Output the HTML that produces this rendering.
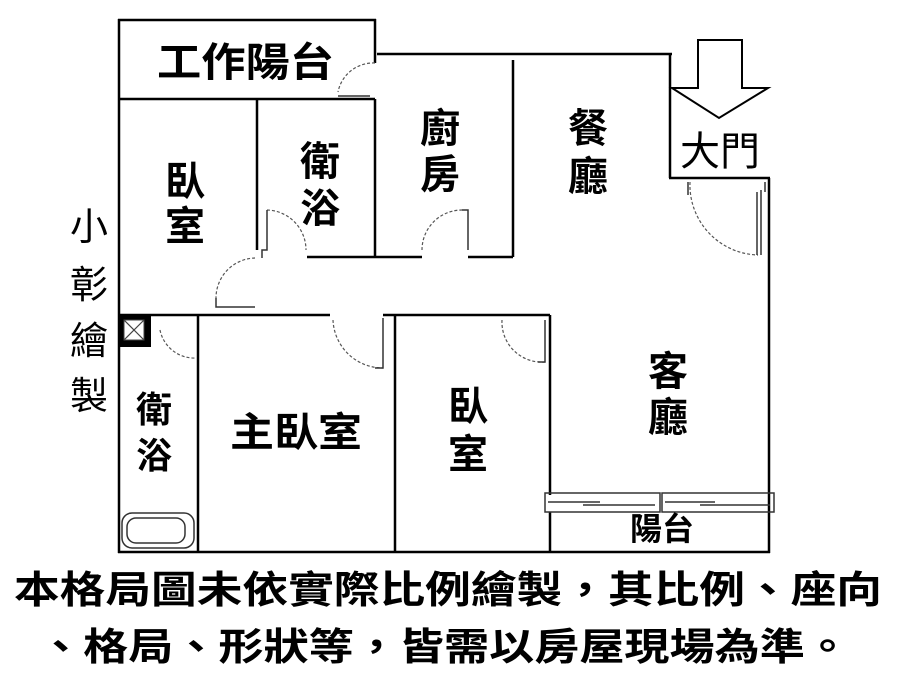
<!DOCTYPE html>
<html><head><meta charset="utf-8"><style>
html,body{margin:0;padding:0;background:#fff;}
svg{display:block;}
text{font-family:"Liberation Sans","Noto Sans CJK TC","WenQuanYi Zen Hei",sans-serif;fill:#000;}
</style></head><body>
<svg width="900" height="689" viewBox="0 0 900 689" xmlns="http://www.w3.org/2000/svg">
<g stroke="#000" stroke-width="2.5" fill="none">
 <line x1="119" y1="19" x2="119" y2="553"/>
 <line x1="118" y1="20" x2="376" y2="20"/>
 <line x1="375" y1="19" x2="375" y2="63"/>
 <line x1="377" y1="54" x2="672" y2="54"/>
 <line x1="119" y1="99" x2="375" y2="99"/>
 <line x1="375" y1="99" x2="375" y2="257"/>
 <line x1="257" y1="99" x2="257" y2="250"/>
 <line x1="307" y1="257" x2="422" y2="257"/>
 <line x1="468" y1="257" x2="513" y2="257"/>
 <line x1="513" y1="60" x2="513" y2="257"/>
 <line x1="670" y1="54" x2="670" y2="178"/>
 <line x1="669" y1="178" x2="770" y2="178"/>
 <line x1="769" y1="178" x2="769" y2="553"/>
 <line x1="119" y1="315" x2="330" y2="315"/>
 <line x1="383" y1="315" x2="550" y2="315"/>
 <line x1="198" y1="315" x2="198" y2="553"/>
 <line x1="395" y1="315" x2="395" y2="553"/>
 <line x1="550" y1="315" x2="550" y2="495"/>
 <line x1="550" y1="512" x2="550" y2="553"/>
 <line x1="118" y1="552" x2="770" y2="552"/>
</g>
<g stroke="#555" stroke-width="1.2" fill="none" stroke-dasharray="3,2">
 <path d="M375 63 A36 36 0 0 0 338 92"/>
 <path d="M267 210 A40 40 0 0 1 306 250"/>
 <path d="M422 250 A40 40 0 0 1 462 210"/>
 <path d="M255 258 A40 40 0 0 0 216 298"/>
 <path d="M333 320 A50 50 0 0 0 383 368"/>
 <path d="M502 320 A40 40 0 0 0 545 362"/>
 <path d="M160 330 A35 35 0 0 0 196 358"/>
 <path d="M690 182 A70 70 0 0 0 758 255"/>
</g>
<g stroke="#333" stroke-width="1.5" fill="none">
 <path d="M338 96 L370 96"/>
 <path d="M267 210 L267 250 L262 250 L262 258"/>
 <path d="M462 210 L468 210 L468 250"/>
 <path d="M216 298 L216 307 L255 307"/>
 <path d="M383 318 L383 368 L375 368"/>
 <path d="M545 320 L545 362 L538 362"/>
 <path d="M757 192 L757 255 M761 190 L761 255"/>
 <path d="M688 182 L688 195 M765 182 L765 192"/>
 <rect x="545" y="493" width="115" height="19"/>
 <rect x="662" y="493" width="112" height="19"/>
 <path d="M548 502 L600 502 M583 505 L655 505 M665 502 L715 502 M700 505 L770 505"/>
 <rect x="122" y="513" width="72" height="35" rx="10"/>
 <rect x="127" y="518" width="58" height="25" rx="9"/>
</g>
<rect x="119" y="315" width="32" height="32" fill="#000"/>
<rect x="124" y="320" width="20" height="20" fill="#fff" stroke="#444"/>
<path d="M124 320 L144 340 M144 320 L124 340" stroke="#444" stroke-width="1.2"/>
<path d="M698 40 L742 40 L742 88 L768 88 L719 118 L672 88 L698 88 Z" fill="#fff" stroke="#000" stroke-width="2"/>
<g font-size="40" font-weight="bold">
 <text x="157" y="76" textLength="177" lengthAdjust="spacingAndGlyphs">工作陽台</text>
 <text x="165" y="195">臥</text><text x="165" y="240">室</text>
 <text x="300" y="175">衛</text><text x="300" y="222">浴</text>
 <text x="420" y="142">廚</text><text x="420" y="188">房</text>
 <text x="568" y="142">餐</text><text x="568" y="190">廳</text>
 <text x="680" y="165" font-weight="normal">大門</text>
 <text x="648" y="385">客</text><text x="648" y="431">廳</text>
 <text x="230" y="446" textLength="132" lengthAdjust="spacingAndGlyphs">主臥室</text>
 <text x="448" y="420">臥</text><text x="448" y="468">室</text>
 <text x="136" y="422" font-size="36">衛</text><text x="136" y="468" font-size="36">浴</text>
 <text x="630" y="540" font-size="32">陽台</text>
 <text x="70" y="240" font-size="38" font-weight="normal">小</text>
 <text x="70" y="298" font-size="38" font-weight="normal">彰</text>
 <text x="70" y="354" font-size="38" font-weight="normal">繪</text>
 <text x="70" y="409" font-size="38" font-weight="normal">製</text>
 <text x="14" y="603" font-size="38" textLength="868" lengthAdjust="spacingAndGlyphs">本格局圖未依實際比例繪製，其比例、座向</text>
 <text x="38" y="660" font-size="38" textLength="812" lengthAdjust="spacingAndGlyphs">、格局、形狀等，皆需以房屋現場為準。</text>
</g>
</svg>
</body></html>
